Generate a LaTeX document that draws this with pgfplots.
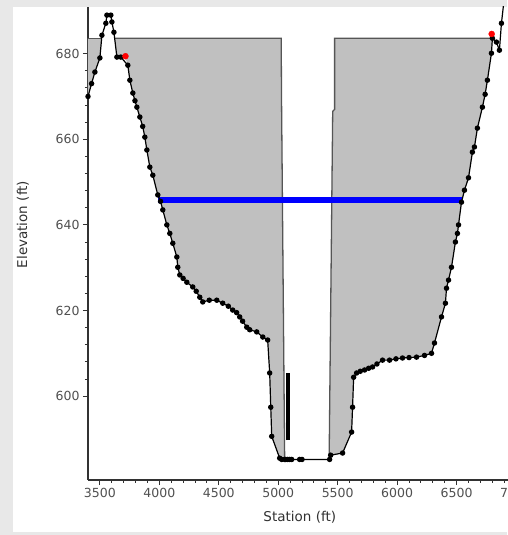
\documentclass[border=0pt]{standalone}
\usepackage{pgfplots}
\pgfplotsset{compat=1.18}
\usepackage{fontspec}
\setmainfont{DejaVu Sans}

\definecolor{bankfill}{RGB}{192,192,192}
\definecolor{edgegray}{RGB}{85,85,85}
\definecolor{panelgray}{RGB}{232,232,232}
\definecolor{axisgray}{RGB}{50,50,50}
\definecolor{labelgray}{RGB}{80,80,80}

% ground profile: station (ft), elevation (ft)
\pgfplotstableread{
x y
3400 670
3430 673
3458 675.7
3500 679
3517 684.3
3550 687.1
3559 689
3592 689
3601 687.4
3618 685
3643 679.2
3676 679.2
3735 677.3
3752 673.8
3777 670.8
3795 669
3811 667.5
3836 665.2
3860 663
3878 660.5
3895 657.5
3920 653.5
3945 651.6
3987 647
4010 645.5
4029 643.5
4063 640
4088 638
4113 635.7
4147 632.5
4155 630.1
4172 628.3
4200 627.5
4231 626.6
4281 625.5
4310 624.5
4340 623.1
4365 622
4420 622.4
4483 622.4
4533 621.7
4580 621
4617 620.1
4650 619.5
4676 618.5
4700 617.5
4735 616.1
4760 615.5
4819 615
4870 613.8
4911 613.1
4928 605.4
4937 597.4
4945 590.6
5012 585.5
5029 585.2
5054 585.2
5062 585.2
5079 585.2
5096 585.2
5113 585.2
5180 585.2
5200 585.2
5432 585.2
5441 586.2
5541 586.7
5617 591.6
5625 597.4
5634 604.4
5659 605.4
5690 605.8
5726 606.1
5760 606.5
5793 606.8
5830 607.5
5877 608.4
5936 608.4
5990 608.7
6045 608.9
6100 609
6163 609.1
6230 609.5
6289 610
6314 612.4
6373 618.5
6406 621.7
6415 625.2
6432 627.1
6457 630.1
6490 636
6507 638
6516 640
6541 645.3
6566 648.1
6600 651
6633 657
6650 658.2
6675 662.6
6717 667.5
6740 670.5
6759 673.8
6793 680.1
6801 683.6
6835 682.7
6860 680.8
6877 687.1
6895 691.5
}\ground

\begin{document}
\begin{tikzpicture}[x=1pt,y=1pt]
% window panel
\fill[panelgray] (0,0) rectangle (507,535);
\fill[white] (13,3) rectangle (507,528);
\begin{axis}[
  at={(88pt,55pt)}, anchor=south west,
  scale only axis, width=434pt, height=473pt,
  xmin=3400, xmax=7050, ymin=580.4, ymax=690.9,
  axis lines*=left,
  axis line style={-, draw=axisgray, line width=1.3pt},
  tick align=outside,
  major tick length=5pt, minor tick length=3pt,
  tick style={draw=axisgray, line width=0.9pt},
  xtick={3500,4000,...,7000}, ytick={600,620,...,680},
  minor x tick num=4, minor y tick num=4,
  /pgf/number format/1000 sep={},
  /pgf/number format/assume math mode=true,
  ticklabel style={font=\fontsize{12.5}{14}\selectfont, text=labelgray},
  xlabel={Station (ft)}, ylabel={Elevation (ft)},
  label style={font=\fontsize{13.5}{15}\selectfont, text=axisgray},
  xlabel style={at={(axis description cs:0.488,-0.078)}, anchor=center},
  ylabel style={at={(axis description cs:-0.150,0.540)}, anchor=center},
]
% ineffective-flow blocks (gray) left and right of the opening
\addplot[fill=bankfill, draw=none] coordinates {
  (3400,683.6) (3400,670) (3430,673) (3458,675.7) (3500,679) (3515,683.6)} -- cycle;
\addplot[fill=bankfill, draw=none] coordinates {
  (3624,683.6) (3643,679.2) (3676,679.2) (3710,679.4) (3735,677.3) (3752,673.8)
  (3777,670.8) (3795,669) (3811,667.5) (3836,665.2) (3860,663) (3878,660.5)
  (3895,657.5) (3920,653.5) (3945,651.6) (3987,647) (4010,645.5) (4029,643.5)
  (4063,640) (4088,638) (4113,635.7) (4147,632.5) (4155,630.1) (4172,628.3)
  (4200,627.5) (4231,626.6) (4281,625.5) (4310,624.5) (4340,623.1) (4365,622)
  (4420,622.4) (4483,622.4) (4533,621.7) (4580,621) (4617,620.1) (4650,619.5)
  (4676,618.5) (4700,617.5) (4735,616.1) (4760,615.5) (4819,615) (4870,613.8)
  (4911,613.1) (4928,605.4) (4937,597.4) (4945,590.6) (5012,585.5) (5054,585.2)
  (5027,671.5) (5025,683.6)} -- cycle;
\addplot[fill=bankfill, draw=none] coordinates {
  (5474,683.6) (5474,667) (5458,666.5) (5428,585.2) (5432,585.2) (5441,586.2)
  (5541,586.7) (5617,591.6) (5625,597.4) (5634,604.4) (5659,605.4) (5690,605.8)
  (5726,606.1) (5760,606.5) (5793,606.8) (5830,607.5) (5877,608.4) (5936,608.4)
  (5990,608.7) (6045,608.9) (6100,609) (6163,609.1) (6230,609.5) (6289,610)
  (6314,612.4) (6373,618.5) (6406,621.7) (6415,625.2) (6432,627.1) (6457,630.1)
  (6490,636) (6507,638) (6516,640) (6541,645.3) (6566,648.1) (6600,651)
  (6633,657) (6650,658.2) (6675,662.6) (6717,667.5) (6740,670.5) (6759,673.8)
  (6793,680.1) (6801,683.6)} -- cycle;
% block outlines
\addplot[edgegray, line width=1.3pt] coordinates {(3400,683.6) (3515,683.6)};
\addplot[edgegray, line width=1.3pt] coordinates {(3624,683.6) (5025,683.6) (5027,671.5) (5054,585.2)};
\addplot[edgegray, line width=1.3pt] coordinates {(6801,683.6) (5474,683.6) (5474,667) (5458,666.5) (5428,585.2)};
% water surface
\addplot[blue, line width=6pt] coordinates {(3990,645.8) (6548,645.8)};
% ground
\addplot[black, line width=1.2pt, mark=*, mark size=2.1pt] table[x=x, y=y] {\ground};
\addplot[black, line width=3.5pt] coordinates {(5080,589.7) (5080,605.4)};
% bank stations
\addplot[only marks, mark=*, mark options={fill=red, draw=red}, mark size=3pt] coordinates {(3715,679.4) (6795,684.6)};
\end{axis}
\pgfresetboundingbox
\path[use as bounding box] (0,0) rectangle (507,535);
\end{tikzpicture}
\end{document}
